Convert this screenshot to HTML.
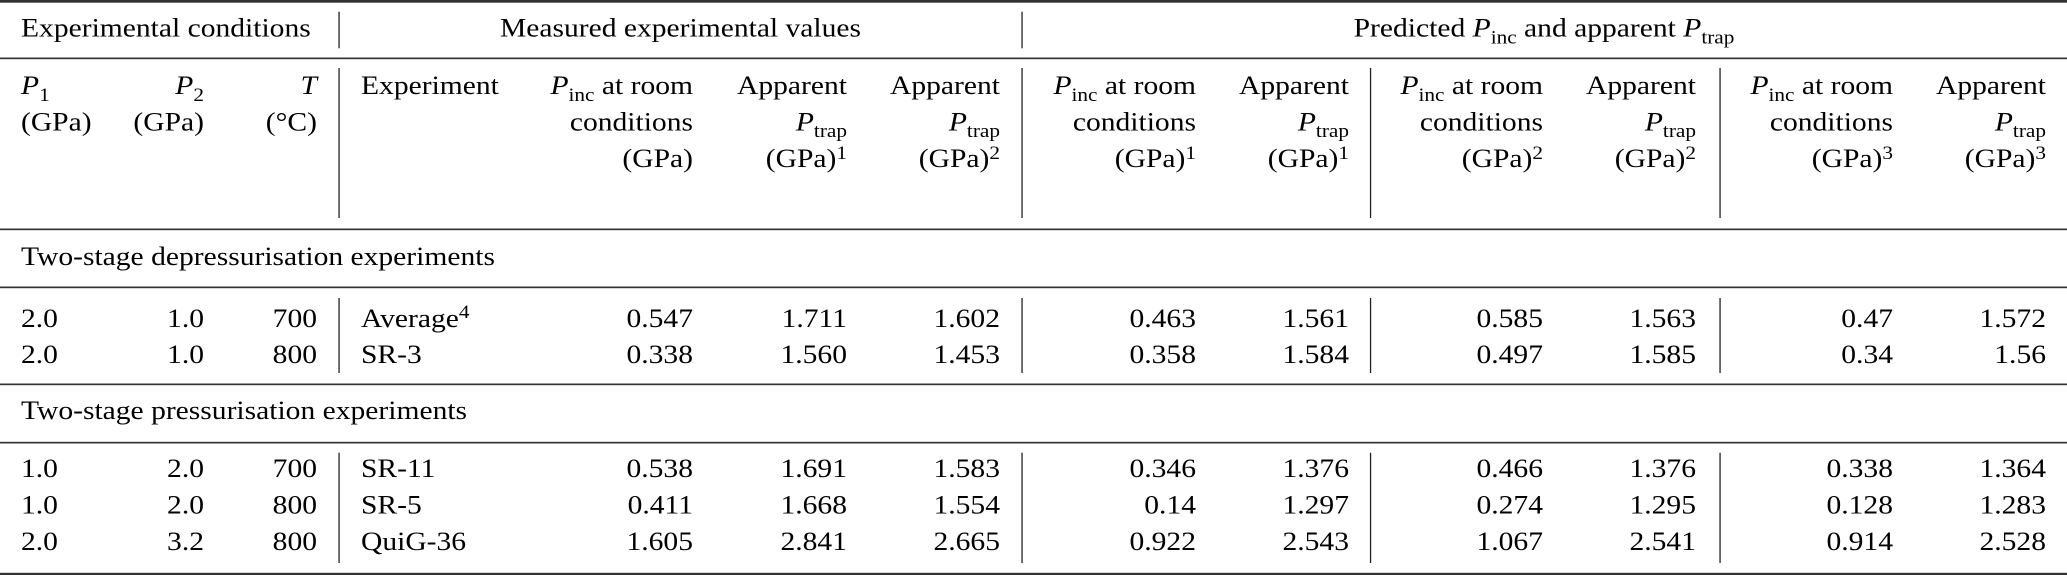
<!DOCTYPE html>
<html>
<head>
<meta charset="utf-8">
<style>
html,body{margin:0;padding:0;background:#fff;}
svg{display:block;}
text{font-family:"Liberation Serif","Times New Roman",serif;font-size:26.4px;fill:#000;}
.i{font-style:italic;}
</style>
</head>
<body>
<svg width="2067" height="575" viewBox="0 0 2067 575" xmlns="http://www.w3.org/2000/svg">
<rect x="0" y="0" width="2067" height="575" fill="#fff"/>
<!-- horizontal rules -->
<rect x="0" y="0" width="2067" height="2.7" fill="#333"/>
<rect x="0" y="57.5" width="2067" height="1.7" fill="#333"/>
<rect x="0" y="228.5" width="2067" height="1.7" fill="#333"/>
<rect x="0" y="286.5" width="2067" height="1.7" fill="#333"/>
<rect x="0" y="383.5" width="2067" height="1.7" fill="#333"/>
<rect x="0" y="441.8" width="2067" height="1.7" fill="#333"/>
<rect x="0" y="572.8" width="2067" height="2.2" fill="#333"/>
<!-- vertical rules row 1 -->
<rect x="338.4" y="11.7" width="1.3" height="36.6" fill="#222"/>
<rect x="1021.4" y="11.7" width="1.3" height="36.6" fill="#222"/>
<!-- vertical rules row 2 -->
<rect x="338.4" y="68" width="1.3" height="150" fill="#222"/>
<rect x="1021.4" y="68" width="1.3" height="150" fill="#222"/>
<rect x="1369.9" y="68" width="1.3" height="150" fill="#222"/>
<rect x="1719.4" y="68" width="1.3" height="150" fill="#222"/>
<!-- vertical rules group 1 -->
<rect x="338.4" y="298" width="1.3" height="75" fill="#222"/>
<rect x="1021.4" y="298" width="1.3" height="75" fill="#222"/>
<rect x="1369.9" y="298" width="1.3" height="75" fill="#222"/>
<rect x="1719.4" y="298" width="1.3" height="75" fill="#222"/>
<!-- vertical rules group 2 -->
<rect x="338.4" y="452.7" width="1.3" height="110.3" fill="#222"/>
<rect x="1021.4" y="452.7" width="1.3" height="110.3" fill="#222"/>
<rect x="1369.9" y="452.7" width="1.3" height="110.3" fill="#222"/>
<rect x="1719.4" y="452.7" width="1.3" height="110.3" fill="#222"/>

<!-- header row 1 -->
<text transform="translate(21,36.7) scale(1.12,1)">Experimental conditions</text>
<text transform="translate(680.5,36.7) scale(1.12,1)" text-anchor="middle">Measured experimental values</text>
<text transform="translate(1544,36.7) scale(1.12,1)" text-anchor="middle">Predicted <tspan class="i">P</tspan><tspan font-size="19" dy="7">inc</tspan><tspan dy="-7"> and apparent </tspan><tspan class="i">P</tspan><tspan font-size="19" dy="7">trap</tspan></text>

<!-- header row 2 -->
<text transform="translate(21,94) scale(1.12,1)"><tspan class="i">P</tspan><tspan font-size="19" dy="7">1</tspan></text>
<text transform="translate(21,130.5) scale(1.12,1)">(GPa)</text>
<text transform="translate(204,94) scale(1.12,1)" text-anchor="end"><tspan class="i">P</tspan><tspan font-size="19" dy="7">2</tspan></text>
<text transform="translate(204,130.5) scale(1.12,1)" text-anchor="end">(GPa)</text>
<text transform="translate(317,94) scale(1.12,1)" text-anchor="end" class="i">T</text>
<text transform="translate(317,130.5) scale(1.12,1)" text-anchor="end">(°C)</text>
<text transform="translate(361,94) scale(1.12,1)">Experiment</text>

<text transform="translate(693,94) scale(1.12,1)" text-anchor="end"><tspan class="i">P</tspan><tspan font-size="19" dy="7">inc</tspan><tspan dy="-7"> at room</tspan></text>
<text transform="translate(693,130.5) scale(1.12,1)" text-anchor="end">conditions</text>
<text transform="translate(693,167) scale(1.12,1)" text-anchor="end">(GPa)</text>

<text transform="translate(847,94) scale(1.12,1)" text-anchor="end">Apparent</text>
<text transform="translate(847,130.5) scale(1.12,1)" text-anchor="end"><tspan class="i">P</tspan><tspan font-size="19" dy="6.5">trap</tspan></text>
<text transform="translate(847,167) scale(1.12,1)" text-anchor="end">(GPa)<tspan font-size="19" dy="-8">1</tspan></text>

<text transform="translate(1000,94) scale(1.12,1)" text-anchor="end">Apparent</text>
<text transform="translate(1000,130.5) scale(1.12,1)" text-anchor="end"><tspan class="i">P</tspan><tspan font-size="19" dy="6.5">trap</tspan></text>
<text transform="translate(1000,167) scale(1.12,1)" text-anchor="end">(GPa)<tspan font-size="19" dy="-8">2</tspan></text>

<text transform="translate(1196,94) scale(1.12,1)" text-anchor="end"><tspan class="i">P</tspan><tspan font-size="19" dy="7">inc</tspan><tspan dy="-7"> at room</tspan></text>
<text transform="translate(1196,130.5) scale(1.12,1)" text-anchor="end">conditions</text>
<text transform="translate(1196,167) scale(1.12,1)" text-anchor="end">(GPa)<tspan font-size="19" dy="-8">1</tspan></text>

<text transform="translate(1349,94) scale(1.12,1)" text-anchor="end">Apparent</text>
<text transform="translate(1349,130.5) scale(1.12,1)" text-anchor="end"><tspan class="i">P</tspan><tspan font-size="19" dy="6.5">trap</tspan></text>
<text transform="translate(1349,167) scale(1.12,1)" text-anchor="end">(GPa)<tspan font-size="19" dy="-8">1</tspan></text>

<text transform="translate(1543,94) scale(1.12,1)" text-anchor="end"><tspan class="i">P</tspan><tspan font-size="19" dy="7">inc</tspan><tspan dy="-7"> at room</tspan></text>
<text transform="translate(1543,130.5) scale(1.12,1)" text-anchor="end">conditions</text>
<text transform="translate(1543,167) scale(1.12,1)" text-anchor="end">(GPa)<tspan font-size="19" dy="-8">2</tspan></text>

<text transform="translate(1696,94) scale(1.12,1)" text-anchor="end">Apparent</text>
<text transform="translate(1696,130.5) scale(1.12,1)" text-anchor="end"><tspan class="i">P</tspan><tspan font-size="19" dy="6.5">trap</tspan></text>
<text transform="translate(1696,167) scale(1.12,1)" text-anchor="end">(GPa)<tspan font-size="19" dy="-8">2</tspan></text>

<text transform="translate(1893,94) scale(1.12,1)" text-anchor="end"><tspan class="i">P</tspan><tspan font-size="19" dy="7">inc</tspan><tspan dy="-7"> at room</tspan></text>
<text transform="translate(1893,130.5) scale(1.12,1)" text-anchor="end">conditions</text>
<text transform="translate(1893,167) scale(1.12,1)" text-anchor="end">(GPa)<tspan font-size="19" dy="-8">3</tspan></text>

<text transform="translate(2046,94) scale(1.12,1)" text-anchor="end">Apparent</text>
<text transform="translate(2046,130.5) scale(1.12,1)" text-anchor="end"><tspan class="i">P</tspan><tspan font-size="19" dy="6.5">trap</tspan></text>
<text transform="translate(2046,167) scale(1.12,1)" text-anchor="end">(GPa)<tspan font-size="19" dy="-8">3</tspan></text>

<!-- section 1 -->
<text transform="translate(21,265) scale(1.12,1)">Two-stage depressurisation experiments</text>

<!-- group 1 row 1 -->
<text transform="translate(21,327) scale(1.12,1)">2.0</text>
<text transform="translate(204,327) scale(1.12,1)" text-anchor="end">1.0</text>
<text transform="translate(317,327) scale(1.12,1)" text-anchor="end">700</text>
<text transform="translate(361,327) scale(1.12,1)">Average<tspan font-size="19" dy="-9">4</tspan></text>
<text transform="translate(693,327) scale(1.12,1)" text-anchor="end">0.547</text>
<text transform="translate(847,327) scale(1.12,1)" text-anchor="end">1.711</text>
<text transform="translate(1000,327) scale(1.12,1)" text-anchor="end">1.602</text>
<text transform="translate(1196,327) scale(1.12,1)" text-anchor="end">0.463</text>
<text transform="translate(1349,327) scale(1.12,1)" text-anchor="end">1.561</text>
<text transform="translate(1543,327) scale(1.12,1)" text-anchor="end">0.585</text>
<text transform="translate(1696,327) scale(1.12,1)" text-anchor="end">1.563</text>
<text transform="translate(1893,327) scale(1.12,1)" text-anchor="end">0.47</text>
<text transform="translate(2046,327) scale(1.12,1)" text-anchor="end">1.572</text>

<!-- group 1 row 2 -->
<text transform="translate(21,363) scale(1.12,1)">2.0</text>
<text transform="translate(204,363) scale(1.12,1)" text-anchor="end">1.0</text>
<text transform="translate(317,363) scale(1.12,1)" text-anchor="end">800</text>
<text transform="translate(361,363) scale(1.12,1)">SR-3</text>
<text transform="translate(693,363) scale(1.12,1)" text-anchor="end">0.338</text>
<text transform="translate(847,363) scale(1.12,1)" text-anchor="end">1.560</text>
<text transform="translate(1000,363) scale(1.12,1)" text-anchor="end">1.453</text>
<text transform="translate(1196,363) scale(1.12,1)" text-anchor="end">0.358</text>
<text transform="translate(1349,363) scale(1.12,1)" text-anchor="end">1.584</text>
<text transform="translate(1543,363) scale(1.12,1)" text-anchor="end">0.497</text>
<text transform="translate(1696,363) scale(1.12,1)" text-anchor="end">1.585</text>
<text transform="translate(1893,363) scale(1.12,1)" text-anchor="end">0.34</text>
<text transform="translate(2046,363) scale(1.12,1)" text-anchor="end">1.56</text>

<!-- section 2 -->
<text transform="translate(21,419) scale(1.12,1)">Two-stage pressurisation experiments</text>

<!-- group 2 row 1 -->
<text transform="translate(21,477) scale(1.12,1)">1.0</text>
<text transform="translate(204,477) scale(1.12,1)" text-anchor="end">2.0</text>
<text transform="translate(317,477) scale(1.12,1)" text-anchor="end">700</text>
<text transform="translate(361,477) scale(1.12,1)">SR-11</text>
<text transform="translate(693,477) scale(1.12,1)" text-anchor="end">0.538</text>
<text transform="translate(847,477) scale(1.12,1)" text-anchor="end">1.691</text>
<text transform="translate(1000,477) scale(1.12,1)" text-anchor="end">1.583</text>
<text transform="translate(1196,477) scale(1.12,1)" text-anchor="end">0.346</text>
<text transform="translate(1349,477) scale(1.12,1)" text-anchor="end">1.376</text>
<text transform="translate(1543,477) scale(1.12,1)" text-anchor="end">0.466</text>
<text transform="translate(1696,477) scale(1.12,1)" text-anchor="end">1.376</text>
<text transform="translate(1893,477) scale(1.12,1)" text-anchor="end">0.338</text>
<text transform="translate(2046,477) scale(1.12,1)" text-anchor="end">1.364</text>

<!-- group 2 row 2 -->
<text transform="translate(21,513.5) scale(1.12,1)">1.0</text>
<text transform="translate(204,513.5) scale(1.12,1)" text-anchor="end">2.0</text>
<text transform="translate(317,513.5) scale(1.12,1)" text-anchor="end">800</text>
<text transform="translate(361,513.5) scale(1.12,1)">SR-5</text>
<text transform="translate(693,513.5) scale(1.12,1)" text-anchor="end">0.411</text>
<text transform="translate(847,513.5) scale(1.12,1)" text-anchor="end">1.668</text>
<text transform="translate(1000,513.5) scale(1.12,1)" text-anchor="end">1.554</text>
<text transform="translate(1196,513.5) scale(1.12,1)" text-anchor="end">0.14</text>
<text transform="translate(1349,513.5) scale(1.12,1)" text-anchor="end">1.297</text>
<text transform="translate(1543,513.5) scale(1.12,1)" text-anchor="end">0.274</text>
<text transform="translate(1696,513.5) scale(1.12,1)" text-anchor="end">1.295</text>
<text transform="translate(1893,513.5) scale(1.12,1)" text-anchor="end">0.128</text>
<text transform="translate(2046,513.5) scale(1.12,1)" text-anchor="end">1.283</text>

<!-- group 2 row 3 -->
<text transform="translate(21,550) scale(1.12,1)">2.0</text>
<text transform="translate(204,550) scale(1.12,1)" text-anchor="end">3.2</text>
<text transform="translate(317,550) scale(1.12,1)" text-anchor="end">800</text>
<text transform="translate(361,550) scale(1.12,1)">QuiG-36</text>
<text transform="translate(693,550) scale(1.12,1)" text-anchor="end">1.605</text>
<text transform="translate(847,550) scale(1.12,1)" text-anchor="end">2.841</text>
<text transform="translate(1000,550) scale(1.12,1)" text-anchor="end">2.665</text>
<text transform="translate(1196,550) scale(1.12,1)" text-anchor="end">0.922</text>
<text transform="translate(1349,550) scale(1.12,1)" text-anchor="end">2.543</text>
<text transform="translate(1543,550) scale(1.12,1)" text-anchor="end">1.067</text>
<text transform="translate(1696,550) scale(1.12,1)" text-anchor="end">2.541</text>
<text transform="translate(1893,550) scale(1.12,1)" text-anchor="end">0.914</text>
<text transform="translate(2046,550) scale(1.12,1)" text-anchor="end">2.528</text>
</svg>
</body>
</html>
